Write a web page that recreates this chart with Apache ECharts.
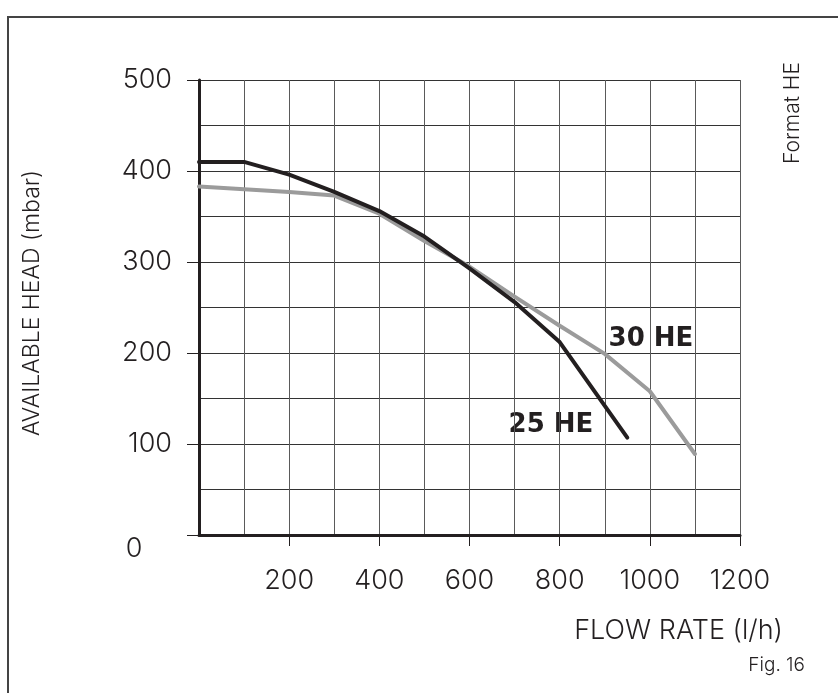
<!DOCTYPE html>
<html>
<head>
<meta charset="utf-8">
<script src="https://cdn.jsdelivr.net/npm/echarts@6/dist/echarts.min.js"></script>
<style>
html, body { margin: 0; padding: 0; background: #fff; }
#main { width: 838px; height: 693px; }
</style>
</head>
<body>
<div id="main"></div>
<script>
// pump curves (flow l/h, head mbar)
var flow30 = [0, 100, 200, 300, 400, 500, 600, 700, 800, 900, 1000, 1100];
var head30 = [383, 380, 377, 373, 353, 323, 295, 262, 230, 199, 158, 89];
var flow25 = [0, 100, 200, 300, 400, 500, 600, 700, 800, 950];
var head25 = [410, 410, 396, 377, 356, 328, 293, 256, 212, 107];
var flowTicks = [200, 400, 600, 800, 1000, 1200];

var FONT = 'Inter';
var INK = '#231f20';

function pairs(xs, ys) {
    return xs.map(function (x, i) { return [x, ys[i]]; });
}

var chart = echarts.init(document.getElementById('main'), null, { renderer: 'canvas' });

var option = {
    animation: false,
    backgroundColor: '#fff',
    grid: {
        left: 199,
        right: 98,
        top: 80,
        bottom: 158
    },
    xAxis: {
        type: 'value',
        min: 0,
        max: 1200,
        interval: 200,
        axisLine: { lineStyle: { color: INK, width: 3 } },
        axisTick: {
            show: true,
            length: 11,
            customValues: flowTicks,
            lineStyle: { color: INK, width: 1 }
        },
        axisLabel: {
            margin: 32,
            color: INK,
            fontFamily: FONT,
            fontWeight: 300,
            fontSize: 27,
            formatter: function (v) { return v === 0 ? '' : String(v); }
        },
        splitLine: { show: true, lineStyle: { color: '#5a5a5a', width: 1 } },
        minorTick: { show: false, splitNumber: 2 },
        minorSplitLine: { show: true, lineStyle: { color: '#5a5a5a', width: 1 } }
    },
    yAxis: {
        type: 'value',
        min: 0,
        max: 500,
        interval: 100,
        axisLine: { show: true, lineStyle: { color: INK, width: 3 } },
        axisTick: { show: true, length: 12, lineStyle: { color: INK, width: 1 } },
        axisLabel: {
            margin: 27,
            color: INK,
            fontFamily: FONT,
            fontWeight: 300,
            fontSize: 27,
            formatter: function (v) { return v === 0 ? '' : String(v); }
        },
        splitLine: { show: true, lineStyle: { color: '#333', width: 1 } },
        minorTick: { show: false, splitNumber: 2 },
        minorSplitLine: { show: true, lineStyle: { color: '#333', width: 1 } }
    },
    series: [
        {
            name: '30 HE',
            type: 'line',
            data: pairs(flow30, head30),
            symbol: 'none',
            lineStyle: { color: '#9b9b9b', width: 4, join: 'round', cap: 'round' },
            z: 3
        },
        {
            name: '25 HE',
            type: 'line',
            data: pairs(flow25, head25),
            symbol: 'none',
            lineStyle: { color: INK, width: 4, join: 'round', cap: 'round' },
            z: 4
        }
    ],
    graphic: [
        // page frame (only top and left edges fall inside the picture)
        {
            type: 'rect',
            shape: { x: 8, y: 17, width: 900, height: 800 },
            style: { fill: 'none', stroke: '#444', lineWidth: 2 },
            silent: true
        },
        {
            type: 'text', x: 32, y: 303, rotation: Math.PI / 2,
            style: {
                text: 'AVAILABLE HEAD (mbar)', fill: INK,
                font: '300 23px Inter', textAlign: 'center', textVerticalAlign: 'middle'
            }
        },
        {
            type: 'text', x: 134, y: 549,
            style: {
                text: '0', fill: INK,
                font: '300 27px Inter', textAlign: 'center', textVerticalAlign: 'middle'
            }
        },
        {
            type: 'text', x: 783, y: 631,
            style: {
                text: 'FLOW RATE (l/h)', fill: INK,
                font: '300 27px Inter', textAlign: 'right', textVerticalAlign: 'middle'
            }
        },
        {
            type: 'text', x: 805, y: 665,
            style: {
                text: 'Fig. 16', fill: INK,
                font: '300 19px Inter', textAlign: 'right', textVerticalAlign: 'middle'
            }
        },
        {
            type: 'text', x: 793, y: 113, rotation: Math.PI / 2,
            style: {
                text: 'Format HE', fill: INK,
                font: '300 21px Inter', textAlign: 'center', textVerticalAlign: 'middle'
            }
        },
        {
            type: 'text', x: 651, y: 339,
            style: {
                text: '30 HE', fill: INK,
                font: 'bold 26px "DejaVu Sans"', textAlign: 'center', textVerticalAlign: 'middle'
            }
        },
        {
            type: 'text', x: 551, y: 425,
            style: {
                text: '25 HE', fill: INK,
                font: 'bold 26px "DejaVu Sans"', textAlign: 'center', textVerticalAlign: 'middle'
            }
        }
    ]
};

chart.setOption(option);
</script>
</body>
</html>
